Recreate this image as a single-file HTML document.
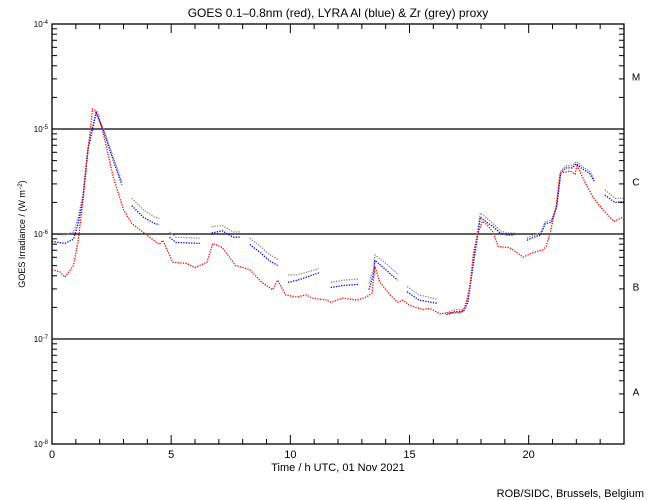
<!DOCTYPE html>
<html><head><meta charset="utf-8">
<style>
html,body{margin:0;padding:0;background:#fff;}
svg{display:block;font-family:"Liberation Sans",sans-serif;}
</style></head>
<body>
<svg id="chart" width="650" height="500" viewBox="0 0 650 500">
<rect width="650" height="500" fill="#fff"/>
<text x="338" y="17" font-size="12" text-anchor="middle">GOES 0.1–0.8nm (red), LYRA Al (blue) &amp; Zr (grey) proxy</text>
<text x="338" y="471" font-size="11" text-anchor="middle">Time / h UTC, 01 Nov 2021</text>
<text transform="translate(25,234) rotate(-90)" font-size="9" text-anchor="middle">GOES Irradiance / (W m<tspan baseline-shift="super" font-size="6">−2</tspan>)</text>
<text x="644" y="497" font-size="11" text-anchor="end">ROB/SIDC, Brussels, Belgium</text>
<g id="grid"></g>
<g id="series"></g>
<g id="axes"></g>
</svg>
<script>
const xTicks = [0, 5, 10, 15, 20];
const decades = [-8, -7, -6, -5, -4];
const flareClasses = ["A", "B", "C", "M"];
const flareLogs = [-7.5, -6.5, -5.5, -4.5];

const goesHours = [0,0.33,0.54,0.9,1.1,1.3,1.5,1.7,1.9,2.15,2.57,3.0,3.35,3.97,4.5,4.65,5.07,5.65,6.0,6.5,6.75,7.15,7.7,8.3,8.8,9.25,9.47,9.8,10.25,10.67,10.9,11.5,11.7,12.2,12.8,13.2,13.43,13.55,13.76,14.18,14.5,14.73,15.0,15.57,15.86,16.28,16.7,17.12,17.33,17.54,17.68,17.83,18.05,18.25,18.5,18.72,19.2,19.77,20.15,20.6,20.73,20.9,21.15,21.32,21.74,21.95,22.03,22.28,22.7,23.12,23.58,23.96];
const goesLog = [-6.34,-6.36,-6.41,-6.30,-6.06,-5.68,-5.23,-4.81,-4.84,-5.04,-5.46,-5.77,-5.90,-6.01,-6.10,-6.06,-6.27,-6.28,-6.32,-6.27,-6.09,-6.13,-6.30,-6.34,-6.46,-6.53,-6.44,-6.58,-6.60,-6.58,-6.61,-6.63,-6.65,-6.61,-6.63,-6.60,-6.56,-6.31,-6.46,-6.58,-6.65,-6.63,-6.68,-6.72,-6.71,-6.76,-6.75,-6.75,-6.70,-6.50,-6.18,-6.03,-5.88,-5.91,-5.98,-6.12,-6.13,-6.22,-6.18,-6.15,-6.12,-5.99,-5.74,-5.42,-5.40,-5.43,-5.34,-5.47,-5.65,-5.77,-5.88,-5.84];

const lyraHours = [0,0.54,0.9,1.1,1.3,1.5,1.85,2.15,2.57,2.93,3.1,3.35,3.83,4.3,4.5,4.7,4.93,5.2,6.2,6.45,6.7,7.15,7.6,7.9,8.1,8.3,8.7,9.1,9.47,9.7,9.9,10.3,11.2,11.45,11.7,12.2,12.85,13.1,13.3,13.5,13.55,13.9,14.5,14.7,14.9,15.4,16.15,16.35,16.55,16.9,17.26,17.45,17.68,17.83,17.97,18.25,18.5,18.8,19.1,19.4,19.7,19.93,20.2,20.5,20.7,20.95,21.17,21.35,21.55,21.83,22.0,22.2,22.55,22.76,23.0,23.2,23.62,24.0];
const alLog = [-6.07,-6.09,-6.05,-5.90,-5.65,-5.20,-4.85,-5.01,-5.30,-5.53,null,-5.73,-5.84,-5.90,-5.91,null,-6.03,-6.08,-6.09,null,-5.99,-5.97,-6.03,-6.03,null,-6.10,-6.17,-6.25,-6.30,null,-6.46,-6.44,-6.37,null,-6.51,-6.49,-6.48,null,-6.53,-6.37,-6.25,-6.32,-6.44,null,-6.55,-6.63,-6.66,null,-6.77,-6.74,-6.74,-6.65,-6.28,-6.06,-5.84,-5.89,-5.93,-5.99,-6.01,-6.01,null,-6.06,-6.03,-6.01,-5.90,-5.89,-5.75,-5.42,-5.37,-5.37,-5.33,-5.37,-5.42,-5.50,null,-5.63,-5.70,-5.69];
const zrLog = [-6.00,-6.01,-5.98,-5.85,-5.62,-5.18,-4.83,-4.99,-5.27,-5.50,null,-5.66,-5.77,-5.84,-5.85,null,-5.98,-6.03,-6.04,null,-5.93,-5.92,-5.98,-5.98,null,-6.04,-6.11,-6.19,-6.24,null,-6.39,-6.39,-6.33,null,-6.46,-6.44,-6.43,null,-6.47,-6.32,-6.20,-6.26,-6.38,null,-6.50,-6.58,-6.62,null,-6.75,-6.72,-6.72,-6.62,-6.25,-6.03,-5.80,-5.85,-5.90,-5.97,-5.99,-5.99,null,-6.04,-6.01,-5.99,-5.88,-5.87,-5.73,-5.40,-5.35,-5.35,-5.31,-5.35,-5.40,-5.48,null,-5.58,-5.66,-5.66];

const X0 = 52, X1 = 624, Y0 = 444, Y1 = 24;
function xs(h){ return X0 + (h/24)*(X1-X0); }
function ys(l){ return Y0 - (l+8)/4*(Y0-Y1); }
const NS = "http://www.w3.org/2000/svg";
function mk(tag, attrs, parent){ const e = document.createElementNS(NS, tag); for (const k in attrs) e.setAttribute(k, attrs[k]); parent.appendChild(e); return e; }

const grid = document.getElementById('grid');
const axes = document.getElementById('axes');
const series = document.getElementById('series');

[-7,-6,-5].forEach(d => {
  const l = mk('line',{x1:X0,x2:X1,y1:ys(d),y2:ys(d),stroke:'#000','stroke-width':1.3},grid);
  
  
});

const fr = mk('rect',{x:X0,y:Y1,width:X1-X0,height:Y0-Y1,fill:'none',stroke:'#000','stroke-width':1.3},axes);



for (let h=0; h<=24; h++){
  const len = (h%5===0)?9:5;
  mk('line',{x1:xs(h),x2:xs(h),y1:Y0,y2:Y0-len,stroke:'#000'},axes);
  mk('line',{x1:xs(h),x2:xs(h),y1:Y1,y2:Y1+len,stroke:'#000'},axes);
}
xTicks.forEach(h => {
  const t = mk('text',{x:xs(h),y:Y0+14,'font-size':11,'text-anchor':'middle'},axes);
  t.textContent = h;
  
  
});

decades.forEach(d => {
  mk('line',{x1:X0,x2:X0+9,y1:ys(d),y2:ys(d),stroke:'#000'},axes);
  mk('line',{x1:X1,x2:X1-9,y1:ys(d),y2:ys(d),stroke:'#000'},axes);
  if (d < -4) for (let m=2; m<=9; m++){
    const y = ys(d+Math.log10(m));
    mk('line',{x1:X0,x2:X0+5,y1:y,y2:y,stroke:'#000'},axes);
    mk('line',{x1:X1,x2:X1-5,y1:y,y2:y,stroke:'#000'},axes);
  }
  const t = mk('text',{x:X0-4,y:ys(d)+3,'font-size':8,'text-anchor':'end'},axes);
  t.innerHTML = '10<tspan baseline-shift="super" font-size="6">'+d+'</tspan>';
  
  
});

flareClasses.forEach((c,i) => {
  const t = mk('text',{x:636,y:ys(flareLogs[i])+4,'font-size':10,'text-anchor':'middle'},axes);
  t.textContent = c;
  
  
});

function drawSeries(hours, vals, color, name){
  let seg = [];
  const segs = [];
  for (let i=0;i<hours.length;i++){
    if (vals[i]===null){ if (seg.length) segs.push(seg); seg=[]; continue; }
    seg.push(xs(hours[i]).toFixed(1)+','+ys(vals[i]).toFixed(1));
  }
  if (seg.length) segs.push(seg);
  segs.forEach(s => {
    const p = mk('polyline',{points:s.join(' '),fill:'none',stroke:color,'stroke-width':1.3,'stroke-dasharray':'1.3 1.3'},series);
    
    
  });
}
drawSeries(lyraHours, zrLog, '#888', 'lyra-zr-series');
drawSeries(lyraHours, alLog, '#0000ff', 'lyra-al-series');
drawSeries(goesHours, goesLog, '#ff0000', 'goes-series');
</script>
</body></html>
